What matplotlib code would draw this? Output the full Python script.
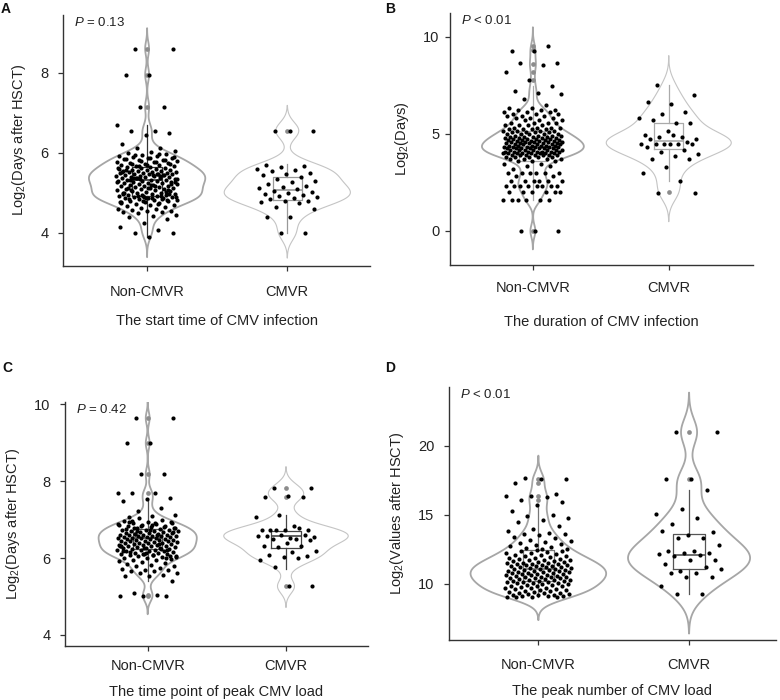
import numpy as np
import matplotlib.pyplot as plt

plt.rcParams['font.family'] = ['Liberation Sans', 'DejaVu Sans']
plt.rcParams['mathtext.fontset'] = 'custom'
plt.rcParams['mathtext.rm'] = 'Liberation Sans'
plt.rcParams['mathtext.it'] = 'Liberation Sans:italic'
plt.rcParams['mathtext.default'] = 'regular'

groups = ['Non-CMVR', 'CMVR']

# ---- A: start time of CMV infection, log2(days after HSCT)
a_non = [
    8.6, 8.6, 7.95, 7.95, 7.15, 7.15, 6.7, 6.55, 6.55, 6.5, 6.45, 6.22,
    6.12, 6.12, 6.05, 6.02, 6.0, 5.98, 5.95, 5.93, 5.91, 5.89, 5.87, 5.86,
    5.84, 5.82, 5.81, 5.79, 5.77, 5.75, 5.74, 5.72, 5.7, 5.7, 5.68, 5.66,
    5.65, 5.64, 5.63, 5.62, 5.61, 5.6, 5.58, 5.58, 5.57, 5.55, 5.55, 5.54,
    5.53, 5.52, 5.51, 5.5, 5.5, 5.49, 5.48, 5.47, 5.46, 5.46, 5.45, 5.44,
    5.43, 5.42, 5.41, 5.4, 5.4, 5.39, 5.38, 5.36, 5.36, 5.35, 5.33, 5.32,
    5.31, 5.3, 5.3, 5.29, 5.28, 5.27, 5.25, 5.25, 5.24, 5.22, 5.21, 5.2,
    5.2, 5.18, 5.17, 5.17, 5.15, 5.14, 5.13, 5.12, 5.1, 5.1, 5.09, 5.08,
    5.06, 5.04, 5.04, 5.02, 5.0, 5.0, 5.0, 4.98, 4.96, 4.95, 4.95, 4.93,
    4.92, 4.91, 4.9, 4.9, 4.88, 4.86, 4.86, 4.85, 4.83, 4.81, 4.8, 4.8,
    4.78, 4.75, 4.75, 4.72, 4.7, 4.7, 4.66, 4.64, 4.62, 4.6, 4.6, 4.58,
    4.55, 4.55, 4.52, 4.52, 4.5, 4.45, 4.42, 4.4, 4.35, 4.25, 4.15, 4.08,
    4.0, 4.0, 3.9,
    5.56, 5.44, 5.34, 5.26, 5.16, 5.06, 4.97, 4.87, 5.52, 5.42, 5.37, 5.28,
    5.19, 5.11, 5.03, 4.94, 5.59, 5.47, 5.38, 5.23, 5.13, 4.99, 4.84, 5.67,
    5.35, 5.45, 5.31, 5.07, 4.89, 4.77,
    5.97, 5.94, 5.9, 5.88, 5.85, 5.83, 5.8, 5.78, 5.76, 5.73, 5.71, 5.69,
    4.96, 4.93, 4.91, 4.89, 4.87, 4.84, 4.82, 4.79, 4.76, 4.73,
]
a_cmvr = [
    6.55, 6.55, 6.55, 5.7, 5.66, 5.64, 5.6, 5.58, 5.55, 5.5, 5.48, 5.44,
    5.4, 5.34, 5.3, 5.26, 5.22, 5.18, 5.15, 5.12, 5.1, 5.05, 5.02, 5.0,
    4.98, 4.95, 4.92, 4.9, 4.86, 4.84, 4.8, 4.8, 4.78, 4.75, 4.65, 4.6,
    4.4, 4.4, 4.0, 4.0,
]
# whislo, q1, median, q3, whishi
a_box = [[3.9, 4.92, 5.33, 5.65, 6.7], [4.0, 4.82, 5.08, 5.40, 5.72]]
a_fliers = [[8.6, 7.95, 7.15], [6.55]]

# ---- B: duration of CMV infection, log2(days)
b_non_levels = [0.0, 1.58, 2.0, 2.32, 2.58, 2.81, 3.0, 3.17, 3.32, 3.46,
                3.58, 3.7, 3.81, 3.91, 4.0, 4.09, 4.17, 4.25, 4.32, 4.39,
                4.46, 4.52, 4.58, 4.64, 4.7, 4.75, 4.81, 4.86, 4.91, 5.0,
                5.09, 5.17, 5.25, 5.32, 5.46, 5.58, 5.7, 5.81, 5.91, 6.0,
                6.13, 6.25, 6.34, 6.5, 6.79, 7.06, 7.1, 7.23, 7.47, 7.78,
                8.16, 8.56, 8.64, 9.24, 9.54]
b_non_counts = [3, 6, 6, 8, 6, 2, 6, 1, 2, 2,
                3, 4, 5, 7, 8, 7, 7, 7, 6, 6,
                5, 5, 5, 4, 4, 4, 4, 4, 4, 5,
                4, 4, 4, 4, 4, 4, 3, 3, 3, 3,
                3, 3, 2, 1, 1, 1, 1, 1, 1, 1,
                1, 1, 2, 2, 1]
b_cmvr = [
    7.54, 7.0, 6.56, 6.63, 6.1, 6.0, 5.84, 5.58, 5.69, 5.55, 5.15, 4.95,
    4.86, 4.86, 4.74, 4.95, 4.76, 4.57, 4.47, 4.48, 4.47, 4.48, 4.48, 4.48,
    4.31, 4.18, 4.07, 3.97, 3.88, 3.7, 3.7, 3.31, 3.0, 2.58, 1.97, 1.97,
]
b_box = [[1.58, 3.58, 4.32, 5.17, 7.47], [2.58, 4.21, 4.65, 5.55, 7.54]]
b_fliers = [[0.0, 7.78, 8.16, 8.58, 9.3, 9.5], [2.0]]

# ---- C: time point of peak CMV load, log2(days after HSCT)
c_non = [
    9.64, 9.64, 8.99, 8.99, 8.18, 8.18, 7.7, 7.7, 7.7, 7.56, 7.53, 7.48,
    7.3, 7.23, 7.12, 7.1, 7.08,
    5.0, 5.0, 5.0, 5.04, 5.08, 5.41, 5.53, 5.53, 5.56, 5.6, 5.6, 5.65,
    5.65, 5.68, 5.7, 5.72, 5.75, 5.78, 5.8, 5.82,
    5.85, 5.87, 5.9, 5.92, 5.95, 5.95, 5.97, 6.0, 6.0, 6.02, 6.04, 6.05,
    6.07, 6.08, 6.1, 6.1, 6.11, 6.13, 6.14, 6.15, 6.17, 6.18, 6.19, 6.2,
    6.21, 6.22, 6.23, 6.24, 6.25, 6.26, 6.27, 6.28, 6.29, 6.3, 6.31, 6.32,
    6.33, 6.34, 6.35, 6.36, 6.37, 6.38, 6.39, 6.4, 6.4, 6.41, 6.42, 6.43,
    6.44, 6.45, 6.45, 6.46, 6.47, 6.48, 6.49, 6.5, 6.5, 6.51, 6.52, 6.52,
    6.53, 6.54, 6.55, 6.55, 6.56, 6.57, 6.58, 6.58, 6.59, 6.6, 6.6, 6.61,
    6.62, 6.63, 6.64, 6.65, 6.66, 6.67, 6.68, 6.69, 6.7, 6.7, 6.72, 6.73,
    6.74, 6.75, 6.77, 6.78, 6.8, 6.82, 6.83, 6.85, 6.87, 6.89, 6.9, 6.93,
    6.95, 6.97, 7.0, 7.03,
    6.02, 6.08, 6.15, 6.2, 6.26, 6.31, 6.36, 6.62, 6.67, 6.72, 6.76, 6.81,
    6.84, 6.88, 6.92, 6.96, 6.06, 6.12, 6.18, 6.24, 6.71, 6.79, 6.86, 6.94,
    6.0, 6.1, 6.3, 6.6, 6.77, 6.91,
]
c_cmvr = [
    7.83, 7.83, 7.62, 7.6, 7.6, 7.12, 7.08, 6.82, 6.74, 6.74, 6.74, 6.74,
    6.77, 6.72, 6.54, 6.52, 6.56, 6.6, 6.6, 6.56, 6.5, 6.5, 6.46, 6.4,
    6.31, 6.32, 6.28, 6.18, 6.16, 6.08, 6.05, 6.03, 5.95, 5.99, 5.77, 5.26,
    5.26,
]
c_box = [[5.41, 6.24, 6.52, 6.75, 7.53], [5.71, 6.25, 6.58, 6.70, 7.12]]
c_fliers = [[9.64, 8.99, 8.18, 7.7, 5.04, 5.0], [7.83, 7.6, 5.26]]

# ---- D: peak number of CMV load, log2(values)
d_non = [
    17.65, 17.6, 17.6, 17.3, 16.5, 16.4, 16.4, 16.3, 16.1, 15.9, 15.7, 15.3,
    15.0, 14.9, 14.8, 14.6, 14.5, 14.2, 14.0, 13.8, 13.7, 13.6, 13.6, 13.5,
    13.4, 13.3, 13.2, 13.1, 13.0, 12.95, 12.9, 12.8, 12.7, 12.65, 12.6, 12.55,
    12.5,
    9.0, 9.02, 9.05, 9.05, 9.08, 9.1, 9.12, 9.15, 9.18, 9.2, 9.22, 9.25,
    9.3, 9.32, 9.35, 9.4, 9.42, 9.45, 9.5, 9.52, 9.55, 9.6, 9.62, 9.65,
    9.7, 9.72, 9.75, 9.8, 9.82, 9.85, 9.9, 9.92, 9.95, 10.0, 10.02, 10.05,
    10.08, 10.1, 10.12, 10.15, 10.18, 10.2, 10.22, 10.25, 10.28, 10.3, 10.32, 10.35,
    10.38, 10.4, 10.42, 10.45, 10.48, 10.5, 10.52, 10.55, 10.58, 10.6, 10.62, 10.65,
    10.68, 10.7, 10.72, 10.75, 10.78, 10.8, 10.82, 10.85, 10.88, 10.9, 10.92, 10.95,
    10.98, 11.0, 11.02, 11.05, 11.08, 11.1, 11.12, 11.15, 11.18, 11.2, 11.22, 11.25,
    11.28, 11.3, 11.32, 11.35, 11.38, 11.4, 11.42, 11.45, 11.48, 11.5, 11.52, 11.55,
    11.6, 11.62, 11.65, 11.7, 11.72, 11.75, 11.8, 11.82, 11.85, 11.9, 11.95, 12.0,
    12.02, 12.05, 12.1, 12.15, 12.2, 12.25, 12.3, 12.35, 12.4, 12.45,
]
d_cmvr = [
    21.0, 21.0, 17.6, 17.6, 16.8, 15.4, 15.04, 14.75, 14.34, 13.75, 13.55, 13.8,
    13.3, 13.3, 12.8, 12.4, 12.4, 12.25, 12.25, 12.15, 12.1, 12.0, 11.7, 11.7,
    11.45, 11.24, 10.95, 11.1, 10.8, 10.8, 10.45, 10.47, 9.8, 9.25, 9.25,
]
d_box = [[9.0, 10.22, 11.09, 12.45, 15.8], [9.25, 11.05, 12.08, 13.59, 16.8]]
d_fliers = [[16.1, 16.4, 17.3, 17.6], [21.0, 17.58]]

W, H = 780, 700
fig = plt.figure(figsize=(W / 100, H / 100), dpi=100)


def px_axes(left, right, top, bottom):
    return fig.add_axes([left / W, 1 - bottom / H, (right - left) / W, (bottom - top) / H])


def kde_stats(values):
    # gaussian kernel, nrd0 bandwidth, tails extended by 3 bandwidths
    v = np.asarray(values, float)
    q75, q25 = np.percentile(v, [75, 25])
    bw = 0.9 * min(v.std(ddof=1), (q75 - q25) / 1.34) * len(v) ** -0.2
    y = np.linspace(v.min() - 3 * bw, v.max() + 3 * bw, 400)
    dens = np.exp(-0.5 * ((y[:, None] - v[None, :]) / bw) ** 2).sum(axis=1)
    return dict(coords=y, vals=dens, mean=v.mean(), median=np.median(v),
                min=v.min(), max=v.max())


def jitter(n, width):
    return ((np.arange(n) * 0.6180339887 + 0.3) % 1.0 - 0.5) * 2 * width


def panel(ax, data, box, fliers, widths, vcolors, vlws, bcolors, xlim, ylim, yticks,
          ylabel, xlabel, ptext, xpad, lpad, ypad):
    for i, vals in enumerate(data):
        pos = i + 1
        v = ax.violin([kde_stats(vals)], positions=[pos], widths=widths[i],
                      showmeans=False, showextrema=False, showmedians=False)
        for b in v['bodies']:
            b.set_facecolor('none')
            b.set_edgecolor(vcolors[i])
            b.set_linewidth(vlws[i])
            b.set_alpha(1)
            b.set_zorder(1)
        stats = [dict(whislo=box[i][0], q1=box[i][1], med=box[i][2], q3=box[i][3],
                      whishi=box[i][4], fliers=fliers[i])]
        c = bcolors[i]
        ax.bxp(stats, positions=[pos], widths=0.21, showcaps=False, manage_ticks=False,
               boxprops=dict(color=c, lw=0.9), whiskerprops=dict(color=c, lw=0.9),
               medianprops=dict(color=c, lw=1.2),
               flierprops=dict(marker='o', markerfacecolor='#8c8c8c',
                               markeredgecolor='none', markersize=3.4),
               zorder=2)
        ax.scatter(pos + jitter(len(vals), 0.22), vals, s=9, color='black',
                   linewidths=0, zorder=3)

    ax.set_xlim(*xlim)
    ax.set_ylim(*ylim)
    ax.set_xticks([1, 2])
    ax.set_xticklabels(groups)
    ax.set_yticks(yticks)
    for s in ['top', 'right']:
        ax.spines[s].set_visible(False)
    for s in ['left', 'bottom']:
        ax.spines[s].set_color('#333333')
        ax.spines[s].set_linewidth(1.0)
    ax.tick_params(axis='both', length=3.4, width=0.9, color='#333333',
                   labelcolor='#222222', labelsize=10.5)
    ax.tick_params(axis='x', pad=xpad)
    ax.tick_params(axis='y', pad=ypad)
    ax.set_ylabel(ylabel, fontsize=10.5, color='#222222', labelpad=9)
    ax.set_xlabel(xlabel, fontsize=10.5, color='#222222', labelpad=lpad)
    ax.text(0.035, 0.995, ptext, transform=ax.transAxes, ha='left', va='top',
            fontsize=9.5, color='#222222')


axA = px_axes(63, 370, 15, 266)
panel(axA, [a_non, a_cmvr], a_box, a_fliers, [0.83, 0.90], ['#a6a6a6', '#c4c4c4'],
      [1.3, 0.8], ['#333333', '#999999'], (0.4, 2.59), (3.17, 9.44), [4, 6, 8],
      'Log$_2$(Days after HSCT)', 'The start time of CMV infection',
      r'$\it{P}$ = 0.13', 10.3, 11, 7)

axB = px_axes(450, 753, 13, 265)
b_non = np.repeat(b_non_levels, b_non_counts)
panel(axB, [b_non, b_cmvr], b_box, b_fliers, [0.75, 0.92], ['#a6a6a6', '#c4c4c4'],
      [1.3, 0.8], ['#aaaaaa', '#aaaaaa'], (0.39, 2.62), (-1.75, 11.22), [0, 5, 10],
      'Log$_2$(Days)', 'The duration of CMV infection',
      r'$\it{P}$ < 0.01', 7.8, 14.5, 4)

axC = px_axes(65, 368, 402, 646)
panel(axC, [c_non, c_cmvr], c_box, c_fliers, [0.71, 0.90], ['#a6a6a6', '#c4c4c4'],
      [1.3, 0.8], ['#555555', '#444444'], (0.402, 2.593), (3.71, 10.06), [4, 6, 8, 10],
      'Log$_2$(Days after HSCT)', 'The time point of peak CMV load',
      r'$\it{P}$ = 0.42', 5.8, 9, 7)

axD = px_axes(449, 776, 387, 640)
panel(axD, [d_non, d_cmvr], d_box, d_fliers, [0.90, 0.81], ['#a6a6a6', '#a6a6a6'],
      [1.3, 1.3], ['#777777', '#555555'], (0.407, 2.577), (5.91, 24.28), [10, 15, 20],
      'Log$_2$(Values after HSCT)', 'The peak number of CMV load',
      r'$\it{P}$ < 0.01', 9.3, 9, 7)

for letter, x, y in [('A', 1, 2), ('B', 385, 2), ('C', 2, 361), ('D', 385, 361)]:
    fig.text(x / W, 1 - y / H, letter, ha='left', va='top', fontsize=10,
             fontweight='bold', color='#111111')

fig.savefig('out.png', dpi=100)
